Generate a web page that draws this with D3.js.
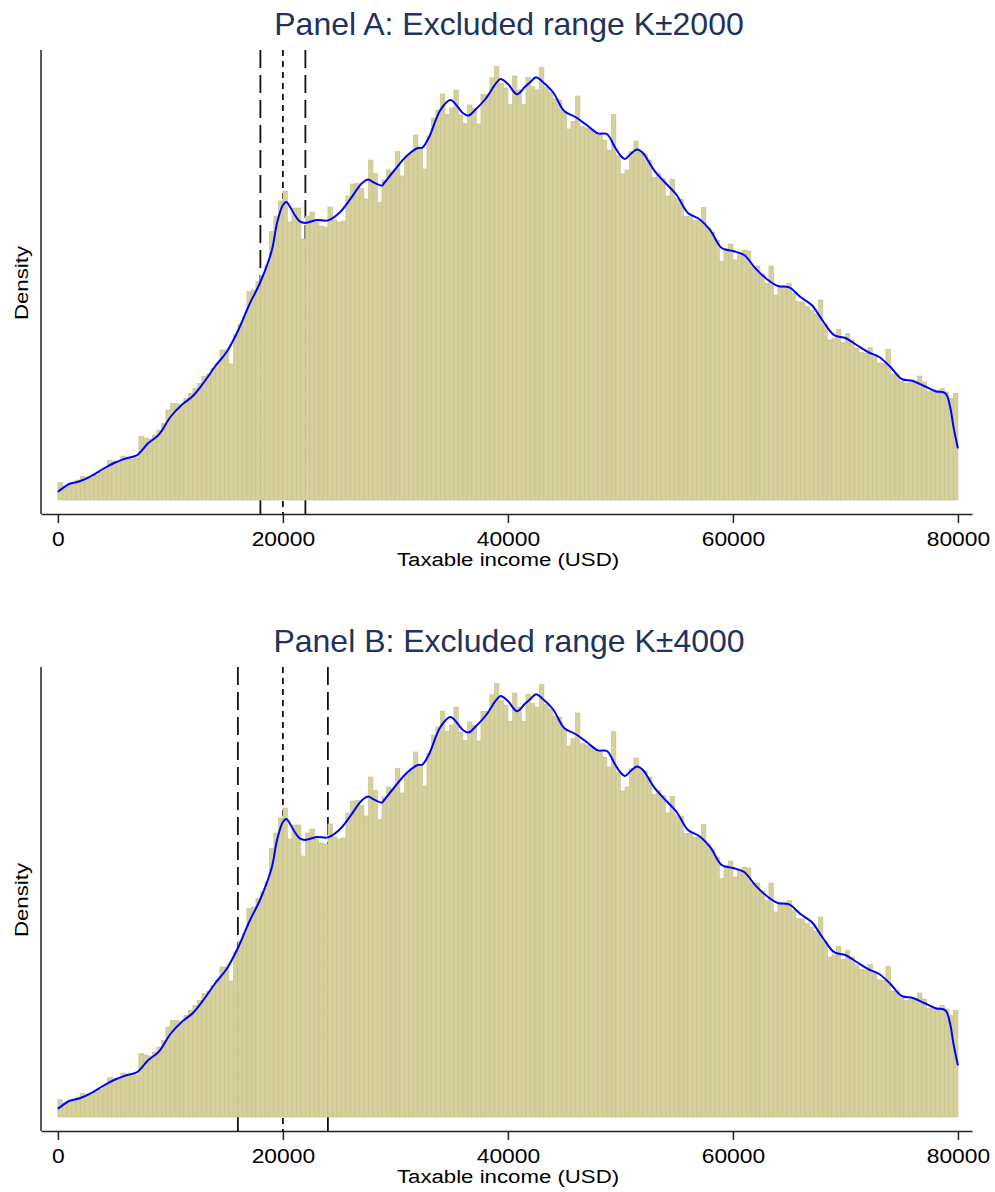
<!DOCTYPE html>
<html>
<head>
<meta charset="utf-8">
<script src="https://cdn.jsdelivr.net/npm/d3@7"></script>
<style>
  body { margin: 0; background: #fff; }
  text { font-family: "Liberation Sans", Arial, sans-serif; }
</style>
</head>
<body>
<div id="graphContainer"></div>
<script>
// histogram: 200 bins of 400 USD from 0 to 80000, density in units of 1e-6
const binWidth = 400;
const binDensity = [
  0.87, 0.7, 0.75, 0.85, 1.0, 1.17, 1.15, 1.1, 1.25, 1.4,
  1.55, 1.97, 1.95, 1.9, 2.2, 2.05, 2.05, 2.1, 3.17, 3.1,
  3.05, 3.25, 3.5, 3.83, 4.5, 4.83, 4.83, 4.67, 5.08, 5.33,
  5.58, 5.83, 6.17, 6.3, 6.58, 6.83, 7.5, 7.5, 6.8, 8.25,
  8.8, 9.17, 10.42, 10.5, 10.92, 11.25, 11.75, 13.42, 14.2, 14.95,
  15.45, 13.9, 14.6, 14.6, 13.05, 14.2, 14.4, 13.9, 13.7, 13.65,
  14.65, 14.0, 13.9, 13.95, 15.2, 15.8, 15.83, 15.58, 15.05, 17.0,
  16.33, 14.87, 16.0, 16.5, 16.4, 17.42, 16.2, 17.15, 17.3, 18.25,
  17.6, 16.55, 18.2, 19.1, 19.5, 20.3, 19.28, 19.6, 20.5, 19.25,
  18.83, 19.75, 19.6, 18.8, 20.28, 20.28, 21.12, 21.67, 20.83, 20.6,
  19.78, 21.2, 20.5, 19.78, 21.13, 20.67, 20.5, 21.63, 20.63, 20.4,
  20.05, 20.0, 19.4, 18.55, 18.92, 20.2, 18.67, 18.6, 18.55, 18.33,
  18.25, 18.0, 17.5, 19.28, 17.22, 16.3, 16.5, 17.42, 17.95, 17.42,
  17.3, 17.0, 16.12, 16.33, 16.08, 15.2, 16.03, 15.1, 15.05, 14.17,
  14.17, 13.97, 14.0, 14.63, 13.63, 13.37, 13.0, 11.92, 12.58, 12.8,
  12.0, 12.33, 12.5, 12.45, 11.7, 11.7, 11.3, 10.83, 11.7, 10.25,
  10.7, 10.67, 10.83, 10.33, 9.92, 9.9, 9.67, 9.47, 9.3, 10.0,
  8.8, 8.0, 8.1, 8.53, 7.87, 8.33, 8.0, 7.6, 7.37, 7.33,
  7.63, 7.17, 6.85, 6.83, 7.53, 6.3, 6.3, 5.92, 5.83, 5.87,
  5.85, 6.2, 5.9, 5.42, 5.5, 5.37, 5.58, 5.4, 5.08, 5.33
];

// kernel density curve
const kdeIncome = [0, 500, 1000, 2000, 3000, 4000, 5000, 6000, 7000, 8000,
  9000, 10000, 11000, 12000, 13000, 14000, 15000, 16000, 17000, 18000,
  19000, 19500, 20000, 20300, 20700, 21000, 21500, 22000, 23000, 24000,
  25000, 26000, 27000, 27600, 28000, 28800, 29000, 30000, 31000, 32000,
  32400, 33000, 34000, 34900, 36000, 36500, 37000, 38000, 39000, 39350,
  40000, 40800, 41500, 42000, 42500, 43000, 44000, 45000, 46000, 47000,
  48000, 48800, 49500, 50000, 50400, 50900, 51500, 52000, 53000, 54000,
  55000, 56000, 57000, 58000, 59000, 60000, 61000, 62000, 63000, 64000,
  65000, 66000, 67000, 68000, 69000, 70000, 71000, 72000, 73000, 74000,
  75000, 76000, 77000, 78000, 78900, 79300, 79600, 80000];
const kdeDensity = [0.42, 0.62, 0.8, 0.95, 1.21, 1.55, 1.85, 2.07, 2.23, 2.82,
  3.28, 4.15, 4.75, 5.2, 5.9, 6.7, 7.4, 8.45, 9.75, 10.9,
  12.45, 13.9, 14.75, 14.9, 14.6, 14.3, 13.93, 13.85, 14.0, 13.98,
  14.35, 15.05, 15.83, 16.03, 15.9, 15.72, 15.85, 16.55, 17.2, 17.6,
  17.62, 18.15, 19.5, 20.0, 19.35, 19.22, 19.45, 20.05, 20.88, 21.05,
  20.8, 20.29, 20.65, 20.9, 21.14, 20.95, 20.4, 19.45, 19.15, 18.75,
  18.33, 18.3, 17.65, 17.23, 17.05, 17.3, 17.53, 17.35, 16.48, 15.85,
  15.25, 14.35, 14.05, 13.48, 12.6, 12.45, 12.25, 11.58, 11.05, 10.7,
  10.63, 10.15, 9.75, 8.95, 8.24, 8.1, 7.75, 7.4, 7.15, 6.65,
  6.05, 5.95, 5.7, 5.44, 5.33, 4.67, 3.67, 2.58];

const panelTitles = ["Panel A: Excluded range K\u00b12000", "Panel B: Excluded range K\u00b14000"];
const excludedHalfWidth = [2000, 4000];
const thresholdK = 20000;
const xTicks = [0, 20000, 40000, 60000, 80000];

const svg = d3.select("#graphContainer").append("svg")
    .attr("width", 995)
    .attr("height", 1192);

const x = d3.scaleLinear().domain([-1500, 81250]).range([41, 972]);
const y = d3.scaleLinear().domain([-0.7, 22.5]).range([514, 50]);
const textStretch = "scale(1.17,1)";  // the original axis text is drawn a bit wide

const kdeLine = d3.line()
    .x((d, i) => x(kdeIncome[i]))
    .y(d => y(d))
    .curve(d3.curveCatmullRom.alpha(0.5));

panelTitles.forEach((title, p) => {
    const g = svg.append("g").attr("transform", `translate(0,${p * 617})`);

    // reference lines sit behind the bars
    const band = excludedHalfWidth[p];
    [thresholdK - band, thresholdK + band].forEach(v => {
        g.append("line")
            .attr("x1", x(v)).attr("x2", x(v))
            .attr("y1", y(22.5)).attr("y2", y(-0.7))
            .attr("stroke", "#111").attr("stroke-width", 1.8)
            .attr("stroke-dasharray", "18,7");
    });
    g.append("line")
        .attr("x1", x(thresholdK)).attr("x2", x(thresholdK))
        .attr("y1", y(22.5)).attr("y2", y(-0.7))
        .attr("stroke", "#111").attr("stroke-width", 1.8)
        .attr("stroke-dasharray", "6,5");

    // histogram bars
    g.selectAll("rect.bar")
        .data(binDensity)
        .enter()
        .append("rect")
        .attr("class", "bar")
        .attr("x", (d, i) => x(i * binWidth))
        .attr("width", x(binWidth) - x(0))
        .attr("y", d => y(d))
        .attr("height", d => y(0) - y(d))
        .attr("fill", "#d5d09c")
        .attr("stroke", "#c6c08a")
        .attr("stroke-width", 0.6);

    // density curve
    g.append("path")
        .datum(kdeDensity)
        .attr("d", kdeLine)
        .attr("fill", "none")
        .attr("stroke", "#0000ff")
        .attr("stroke-width", 2);

    // axes
    const xAxis = g.append("g")
        .attr("transform", `translate(0,${y(-0.7)})`)
        .call(d3.axisBottom(x).tickValues(xTicks).tickFormat(d3.format("d"))
            .tickSize(9).tickSizeOuter(0).tickPadding(9));
    xAxis.select(".domain").attr("stroke", "#222").attr("stroke-width", 1.5);
    xAxis.selectAll(".tick line").attr("stroke", "#222").attr("stroke-width", 1.5);
    xAxis.selectAll(".tick text")
        .attr("fill", "#000")
        .style("font-size", "19.5px")
        .style("font-family", "'Liberation Sans', Arial, sans-serif")
        .attr("transform", textStretch);

    g.append("line")
        .attr("x1", x(-1500)).attr("x2", x(-1500))
        .attr("y1", y(22.5)).attr("y2", y(-0.7))
        .attr("stroke", "#222").attr("stroke-width", 1.5);

    // titles
    g.append("text")
        .attr("x", 509).attr("y", 35)
        .attr("text-anchor", "middle")
        .attr("fill", "#22325c")
        .style("font-size", "32px")
        .text(title);

    g.append("text")
        .attr("transform", `translate(508,566) ${textStretch}`)
        .attr("text-anchor", "middle")
        .attr("fill", "#000")
        .style("font-size", "19px")
        .text("Taxable income (USD)");

    g.append("text")
        .attr("transform", `translate(28,283) rotate(-90) ${textStretch}`)
        .attr("text-anchor", "middle")
        .attr("fill", "#000")
        .style("font-size", "19px")
        .text("Density");
});
</script>
</body>
</html>
